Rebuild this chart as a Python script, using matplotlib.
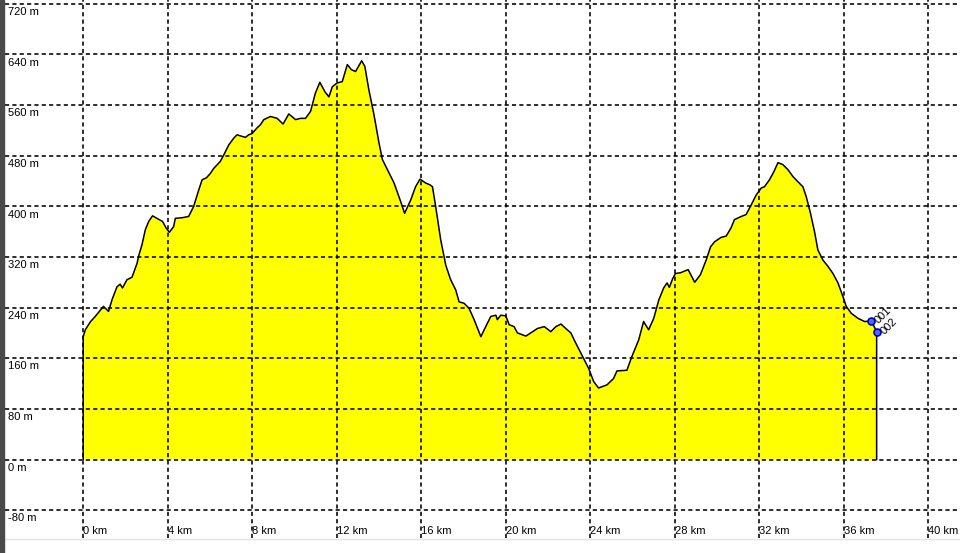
import matplotlib.pyplot as plt
from matplotlib.patches import Rectangle
from matplotlib.lines import Line2D

# elevation profile (distance in km, elevation in m)
dist_km = [0.0, 0.1, 0.35, 0.57, 0.96, 1.2, 1.36, 1.6, 1.75, 1.86, 2.07, 2.31, 2.55, 2.62,
           2.78, 2.94, 3.1, 3.28, 3.49, 3.76, 3.92, 4.08, 4.28, 4.36, 4.68, 4.99, 5.23, 5.47,
           5.63, 5.83, 6.02, 6.18, 6.49, 6.65, 6.89, 7.13, 7.28, 7.47, 7.68, 7.83, 7.99, 8.23,
           8.39, 8.55, 8.86, 9.18, 9.46, 9.73, 10.05, 10.28, 10.52, 10.76, 10.99, 11.2, 11.44,
           11.63, 11.79, 12.02, 12.26, 12.5, 12.69, 12.89, 13.18, 13.33, 13.52, 13.76, 14.0,
           14.16, 14.4, 14.71, 15.02, 15.21, 15.5, 15.73, 15.94, 16.2, 16.41, 16.53, 16.68,
           16.92, 17.16, 17.39, 17.63, 17.79, 18.02, 18.26, 18.5, 18.82, 19.05, 19.29, 19.53,
           19.6, 19.76, 20.0, 20.16, 20.39, 20.55, 20.95, 21.18, 21.5, 21.82, 22.13, 22.37,
           22.61, 22.84, 23.08, 23.28, 23.6, 23.92, 24.16, 24.39, 24.79, 25.1, 25.26, 25.73,
           25.97, 26.29, 26.52, 26.76, 27.0, 27.24, 27.47, 27.63, 27.74, 27.9, 28.03, 28.26,
           28.63, 28.94, 29.21, 29.48, 29.69, 29.88, 30.19, 30.43, 30.66, 30.82, 31.14, 31.37,
           31.61, 31.85, 32.09, 32.24, 32.48, 32.69, 32.88, 33.11, 33.35, 33.59, 33.82, 34.06,
           34.22, 34.42, 34.61, 34.77, 35.01, 35.25, 35.48, 35.72, 35.96, 36.11, 36.35, 36.67,
           36.98, 37.3, 37.55]
elev_m = [194, 205, 218, 226, 242, 234, 252, 273, 277, 271, 284, 288, 310, 321,
          339, 363, 376, 385, 381, 376, 366, 359, 368, 381, 382, 384, 400, 426,
          442, 445, 452, 460, 471, 481, 497, 508, 513, 511, 509, 513, 515, 524,
          529, 537, 542, 539, 530, 546, 537, 539, 539, 550, 579, 596, 581,
          573, 589, 595, 597, 624, 616, 613, 630, 621, 584, 545, 500,
          474, 458, 437, 408, 389, 410, 431, 443, 437, 434, 431, 400,
          347, 307, 284, 268, 249, 247, 239, 221, 194, 210, 226, 228,
          221, 228, 227, 213, 210, 200, 195, 200, 207, 210, 202, 210,
          214, 207, 200, 186, 165, 144, 123, 113, 118, 128, 140, 141,
          163, 189, 218, 205, 223, 252, 271, 279, 272, 286, 294, 295,
          300, 280, 292, 315, 336, 344, 351, 353, 366, 379, 384, 387,
          402, 418, 429, 431, 442, 455, 469, 466, 458, 447, 439, 431,
          415, 389, 360, 331, 315, 305, 294, 279, 257, 242, 231, 223,
          218, 219, 202]

wp_names = ['001', '002']
wp_km = [37.3, 37.55]
wp_m = [219, 202]

y_ticks = [-80, 0, 80, 160, 240, 320, 400, 480, 560, 640, 720]
x_ticks = [0, 4, 8, 12, 16, 20, 24, 28, 32, 36, 40]

plt.rcParams['font.family'] = ['Liberation Sans', 'DejaVu Sans']

fig = plt.figure(figsize=(9.6, 5.53), dpi=100)
ax = fig.add_axes([5 / 960, 15 / 553, 953 / 960, 538 / 553])
ax.set_xlim(-3.7, 41.4)
ax.set_ylim(-124, 726)
for s in ax.spines.values():
    s.set_visible(False)
ax.set_xticks(x_ticks)
ax.set_yticks(y_ticks)
ax.tick_params(length=0, labelleft=False, labelbottom=False)
ax.grid(True, color='black', linestyle=(0, (2.6, 2.0)), linewidth=1.15)
ax.set_axisbelow(False)

px = [dist_km[0]] + dist_km + [dist_km[-1]]
py = [0] + elev_m + [0]
ax.fill(px, py, color='#ffff00', zorder=1, linewidth=0)
ax.plot(px, py, color='black', linewidth=1.1, zorder=3)

for t in y_ticks:
    ax.text(0.003, t - 5, f'{t} m', transform=ax.get_yaxis_transform(),
            fontsize=8, va='top', ha='left', color='black')
for t in x_ticks:
    ax.text(t, -105, f'{t} km', fontsize=8, va='top', ha='left', color='black')

ax.plot(wp_km, wp_m, linestyle='none', marker='o', markersize=5,
        markerfacecolor='#4a6bff', markeredgecolor='#0000c8', markeredgewidth=1.2, zorder=4)
for name, x, y in zip(wp_names, wp_km, wp_m):
    ax.annotate(name, (x, y), xytext=(4, -1), textcoords='offset points',
                rotation=45, rotation_mode='anchor', fontsize=8,
                ha='left', va='center', zorder=5)

# dark frame bar on the left, faint line at the bottom
fig.patches.append(Rectangle((0, 0), 4 / 960, 1, transform=fig.transFigure,
                             color='#4a4a4a', zorder=10))
fig.lines.append(Line2D([5 / 960, 1], [14 / 553, 14 / 553], transform=fig.transFigure,
                        color='#e4e4e4', linewidth=1))

fig.savefig('out.png', dpi=100)
